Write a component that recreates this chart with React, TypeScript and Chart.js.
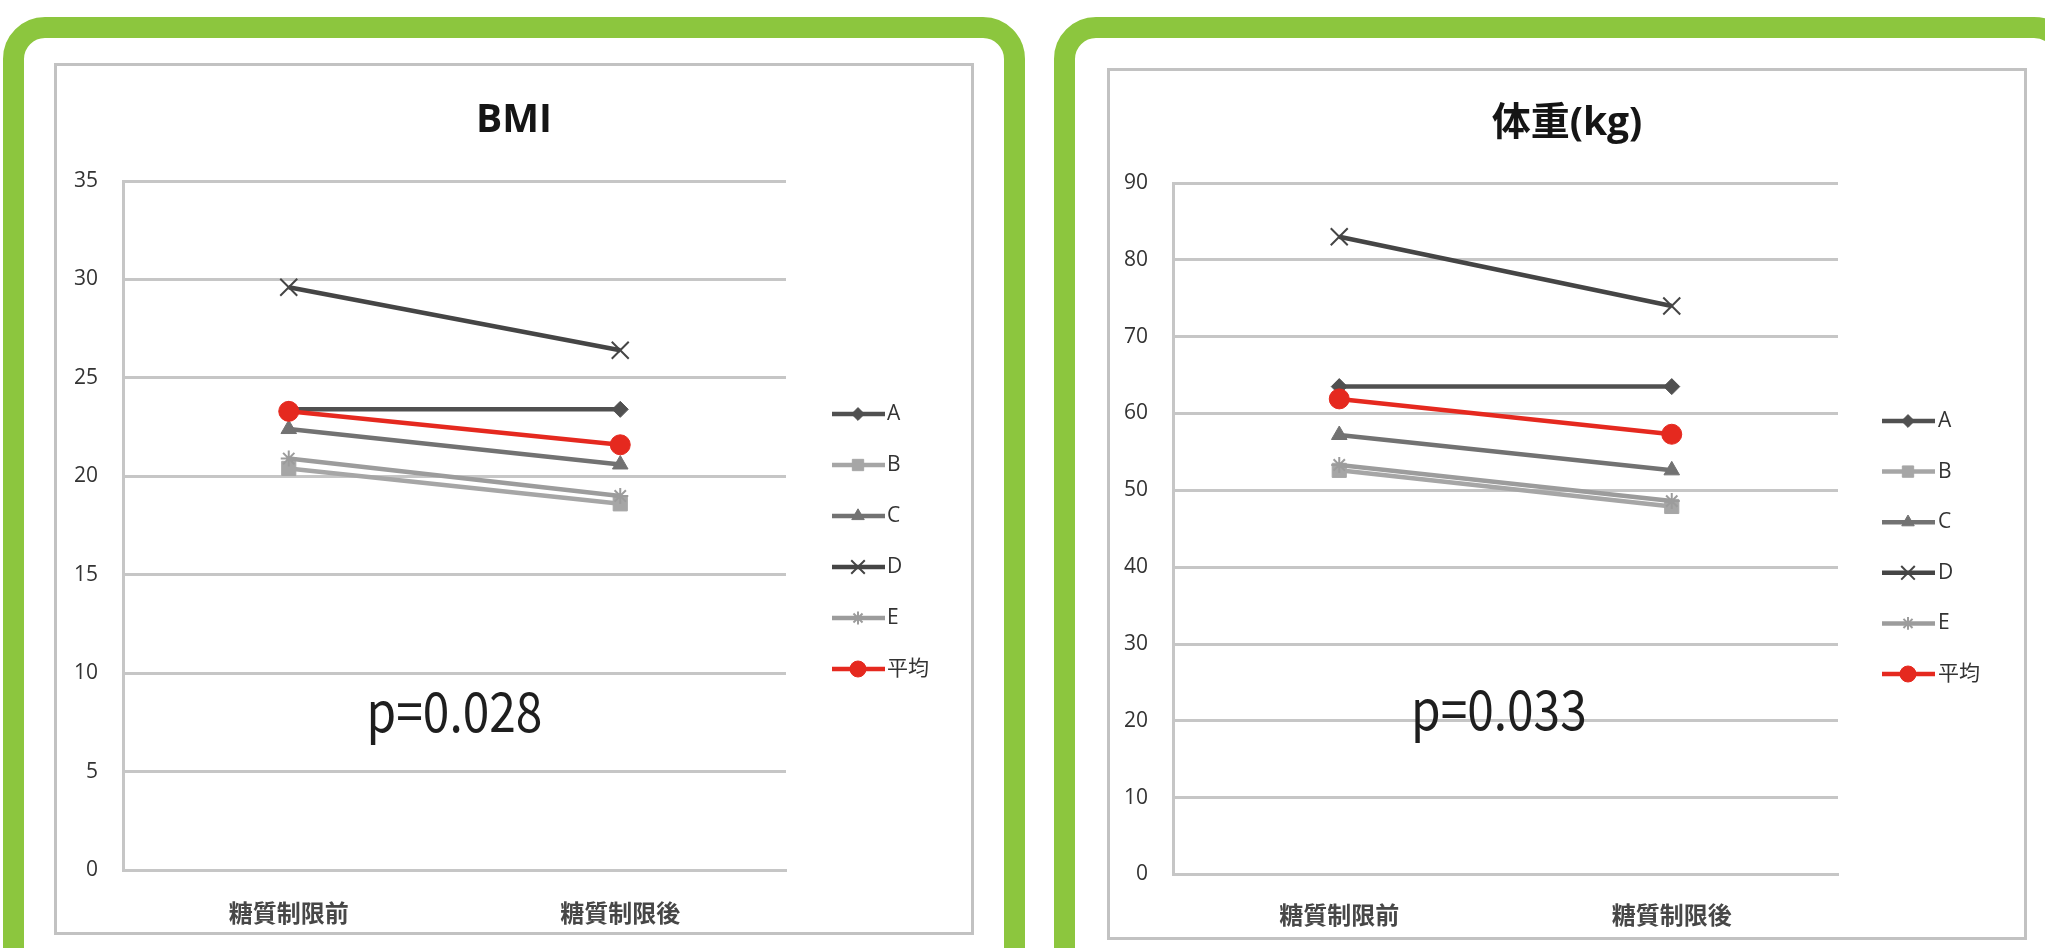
import React, { useEffect, useRef } from "react";
import { Chart, registerables } from "chart.js";
import { drawPoint } from "chart.js/helpers";

Chart.register(...registerables);

// ---------- data ----------
const categories = ["糖質制限前", "糖質制限後"];
const seriesNames = ["A", "B", "C", "D", "E", "平均"];

const bmiA = [23.4, 23.4];
const bmiB = [20.4, 18.6];
const bmiC = [22.4, 20.6];
const bmiD = [29.6, 26.4];
const bmiE = [20.9, 19.0];
const bmiMean = [23.3, 21.6];
const bmiYTicks = [0, 5, 10, 15, 20, 25, 30, 35];

const wA = [63.5, 63.5];
const wB = [52.6, 47.9];
const wC = [57.2, 52.6];
const wD = [83.0, 74.0];
const wE = [53.3, 48.6];
const wMean = [61.9, 57.3];
const wYTicks = [0, 10, 20, 30, 40, 50, 60, 70, 80, 90];

// ---------- styles ----------
const seriesStyles = [
  { color: "#505050", pointStyle: "rectRot", radius: 8, bw: 1 },
  { color: "#a6a6a6", pointStyle: "rect", radius: 10, bw: 1 },
  { color: "#727272", pointStyle: "triangle", radius: 9, bw: 1 },
  { color: "#454545", pointStyle: "crossRot", radius: 12, bw: 2 },
  { color: "#9c9c9c", pointStyle: "star", radius: 8, bw: 2 },
  { color: "#e5291f", pointStyle: "circle", radius: 10, bw: 1 },
];

const GRID = "#c6c6c6";
const LATIN = '"Open Sans", "Noto Sans CJK JP", sans-serif';
const CJK = '"Noto Sans CJK JP", sans-serif';

type PanelSpec = {
  title: string;
  series: number[][];
  yTicks: number[];
  yAxisWidth: number;
  padRight: number;
  xAxisHeight: number;
  titlePadTop: number;
  titlePadBottom: number;
  xTickPad: number;
  legendTop: number;
  legendGap: number;
  legendLineStart: number;
  legendTextStart: number;
  pText: string;
  pX: number;
  pY: number;
};

const leftPanel: PanelSpec = {
  title: "BMI",
  series: [bmiA, bmiB, bmiC, bmiD, bmiE, bmiMean],
  yTicks: bmiYTicks,
  yAxisWidth: 66,
  padRight: 185,
  xAxisHeight: 62,
  titlePadTop: 31.6,
  titlePadBottom: 36.6,
  xTickPad: 20,
  legendTop: 348,
  legendGap: 51,
  legendLineStart: 46,
  legendTextStart: 101,
  pText: "p=0.028",
  pX: 0.5,
  pY: 7.0,
};

const rightPanel: PanelSpec = {
  title: "体重(kg)",
  series: [wA, wB, wC, wD, wE, wMean],
  yTicks: wYTicks,
  yAxisWidth: 63,
  padRight: 186,
  xAxisHeight: 62.5,
  titlePadTop: 29.6,
  titlePadBottom: 35.6,
  xTickPad: 18,
  legendTop: 350,
  legendGap: 50.6,
  legendLineStart: 44,
  legendTextStart: 100,
  pText: "p=0.033",
  pX: 0.48,
  pY: 18.8,
};

const annotPlugin = {
  id: "annot",
  afterDraw(chart: any, _args: any, opts: any) {
    const { ctx, chartArea } = chart;
    const spec: PanelSpec = opts.spec;
    if (!spec) return;
    // legend
    chart.data.datasets.forEach((ds: any, i: number) => {
      const y = spec.legendTop + i * spec.legendGap;
      const x0 = chartArea.right + spec.legendLineStart;
      ctx.save();
      ctx.strokeStyle = ds.borderColor;
      ctx.lineWidth = 4.5;
      ctx.beginPath();
      ctx.moveTo(x0, y);
      ctx.lineTo(x0 + 53, y);
      ctx.stroke();
      ctx.fillStyle = ds.pointBackgroundColor;
      ctx.strokeStyle = ds.pointBorderColor;
      ctx.lineWidth = ds.pointBorderWidth;
      drawPoint(
        ctx,
        {
          pointStyle: ds.pointStyle,
          radius: ds.pointRadius * 0.8,
          borderWidth: ds.pointBorderWidth,
          rotation: 0,
        } as any,
        x0 + 26,
        y
      );
      ctx.fillStyle = "#333333";
      ctx.font = `21px ${LATIN}`;
      ctx.textAlign = "left";
      ctx.textBaseline = "middle";
      ctx.fillText(ds.label, chartArea.right + spec.legendTextStart, y);
      ctx.restore();
    });
    // p value
    const xs = chart.scales.x;
    const ys = chart.scales.y;
    const px = xs.getPixelForValue(spec.pX);
    const py = ys.getPixelForValue(spec.pY);
    ctx.save();
    ctx.translate(px, py);
    ctx.scale(0.87, 1);
    ctx.font = `55px ${CJK}`;
    ctx.fillStyle = "#1e1e1e";
    ctx.textAlign = "center";
    ctx.textBaseline = "alphabetic";
    ctx.fillText(spec.pText, 0, 0);
    ctx.restore();
  },
};

function makeConfig(spec: PanelSpec): any {
  return {
    type: "line",
    data: {
      labels: categories,
      datasets: spec.series.map((vals, i) => {
        const st = seriesStyles[i];
        return {
          label: seriesNames[i],
          data: vals,
          borderColor: st.color,
          backgroundColor: st.color,
          borderWidth: 4.5,
          pointStyle: st.pointStyle,
          pointRadius: st.radius,
          pointBorderWidth: st.bw,
          pointBackgroundColor: st.color,
          pointBorderColor: st.color,
          order: seriesNames.length - i,
          clip: false,
          tension: 0,
          yAxisID: "y",
          xAxisID: "x",
        };
      }),
    },
    options: {
      responsive: false,
      animation: false,
      devicePixelRatio: 1,
      layout: { padding: { left: 0, right: 0, top: 0, bottom: 0 } },
      plugins: {
        legend: { display: false },
        tooltip: { enabled: false },
        title: {
          display: true,
          text: spec.title,
          color: "#151515",
          font: { family: LATIN, size: 39, weight: "bold" },
          padding: { top: spec.titlePadTop, bottom: spec.titlePadBottom },
        },
        annot: { spec },
      },
      scales: {
        x: {
          type: "category",
          offset: true,
          grid: { display: false },
          border: { display: true, color: GRID, width: 3 },
          ticks: {
            color: "#474747",
            padding: spec.xTickPad,
            font: { family: CJK, size: 24, weight: "bold" },
            maxRotation: 0,
          },
          afterFit: (s: any) => {
            s.height = spec.xAxisHeight;
          },
        },
        y: {
          type: "linear",
          position: "left",
          min: spec.yTicks[0],
          max: spec.yTicks[spec.yTicks.length - 1],
          grid: { color: GRID, lineWidth: 3, drawTicks: false },
          border: { display: true, color: GRID, width: 3 },
          ticks: {
            color: "#333333",
            padding: 25,
            font: { family: LATIN, size: 21 },
          },
          afterBuildTicks: (s: any) => {
            s.ticks = spec.yTicks.map((v) => ({ value: v }));
          },
          afterFit: (s: any) => {
            s.width = spec.yAxisWidth;
          },
        },
        legendSpace: {
          type: "linear",
          position: "right",
          display: true,
          grid: { display: false },
          border: { display: false },
          ticks: { display: false },
          afterFit: (s: any) => {
            s.width = spec.padRight;
          },
        },
      },
    },
    plugins: [annotPlugin],
  };
}

function ChartPanel({ spec }: { spec: PanelSpec }) {
  const ref = useRef<HTMLCanvasElement>(null);
  useEffect(() => {
    const chart = new Chart(ref.current as HTMLCanvasElement, makeConfig(spec));
    return () => chart.destroy();
  }, [spec]);
  return (
    <canvas
      ref={ref}
      width={914}
      height={866}
      style={{ display: "block", width: 914, height: 866 }}
    />
  );
}

const GREEN = "#8cc63e";

export default function App() {
  const frame = (left: number): React.CSSProperties => ({
    position: "absolute",
    left,
    top: 17,
    width: 1022,
    height: 985,
    border: `21px solid ${GREEN}`,
    borderRadius: 42,
    boxSizing: "border-box",
    background: "#ffffff",
  });
  const box = (left: number, top: number): React.CSSProperties => ({
    position: "absolute",
    left,
    top,
    width: 920,
    height: 872,
    border: "3px solid #c2c2c2",
    boxSizing: "border-box",
    background: "#ffffff",
  });
  return (
    <div
      style={{
        position: "absolute",
        left: 0,
        top: 0,
        width: 2045,
        height: 948,
        overflow: "hidden",
        background: "#ffffff",
      }}
    >
      <div style={frame(3)} />
      <div style={frame(1054)} />
      <div style={box(54, 63)}>
        <ChartPanel spec={leftPanel} />
      </div>
      <div style={box(1107, 68)}>
        <ChartPanel spec={rightPanel} />
      </div>
    </div>
  );
}
